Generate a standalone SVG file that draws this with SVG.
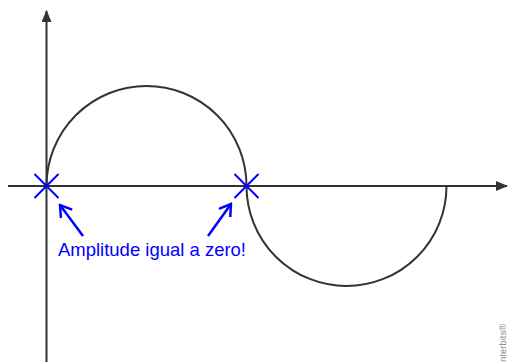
<svg xmlns="http://www.w3.org/2000/svg" width="508" height="362" viewBox="0 0 508 362">
<style>
.ax{stroke:#333;stroke-width:2;fill:none}
.cv{stroke:#333;stroke-width:2;fill:none}
.bl{stroke:#0000ff;stroke-width:2;fill:none}
.ar{stroke:#0000ff;stroke-width:2.5;fill:none}
.lbl{font-family:"Liberation Sans",Arial,sans-serif;font-size:18.5px;fill:#0000ff}
.wm{font-family:"Liberation Sans",Arial,sans-serif;font-size:9.5px;fill:#888}
</style>
<defs>
<marker id="ah" markerWidth="12" markerHeight="10" refX="11" refY="5" orient="auto" markerUnits="userSpaceOnUse">
<path d="M0,0 L12,5 L0,10 Z" fill="#333"/>
</marker>
<marker id="bh" markerWidth="14" markerHeight="16" refX="12" refY="8" orient="auto" markerUnits="userSpaceOnUse">
<path d="M1,1 L12,8 L1,15" fill="none" stroke="#0000ff" stroke-width="2.5"/>
</marker>
</defs>
<rect width="508" height="362" fill="#fff"/>
<g id="connectors">
<line class="ax" x1="46.5" y1="362" x2="46.5" y2="11" marker-end="url(#ah)"/>
<line class="ax" x1="8" y1="186" x2="507" y2="186" marker-end="url(#ah)"/>
<path class="cv" d="M46.5,186 A100,100 0 0 1 246.5,186 A100,100 0 0 0 446.5,186"/>
<line class="ar" x1="83" y1="236" x2="60" y2="205" marker-end="url(#bh)"/>
<line class="ar" x1="208" y1="236" x2="231" y2="204" marker-end="url(#bh)"/>
</g>
<g id="cross1">
<line class="bl" x1="34.5" y1="174" x2="58.5" y2="198"/>
<line class="bl" x1="58.5" y1="174" x2="34.5" y2="198"/>
</g>
<g id="cross2">
<line class="bl" x1="234.5" y1="174" x2="258.5" y2="198"/>
<line class="bl" x1="258.5" y1="174" x2="234.5" y2="198"/>
</g>
<g id="label">
<text class="lbl" x="58" y="256" textLength="188" lengthAdjust="spacingAndGlyphs">Amplitude igual a zero!</text>
</g>
<text class="wm" transform="translate(506,362) rotate(-90)">nterbits®</text>
</svg>
